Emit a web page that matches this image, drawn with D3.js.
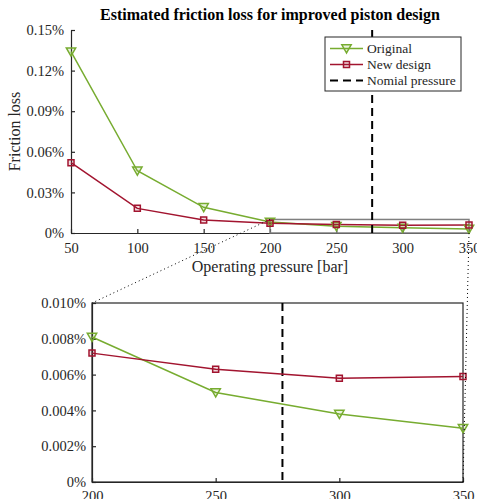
<!DOCTYPE html>
<html>
<head>
<meta charset="utf-8">
<script src="https://cdn.jsdelivr.net/npm/d3@7"></script>
<style>
  body { margin: 0; background: #fff; }
  svg, svg text { font-family: "Liberation Serif", "Times New Roman", serif !important; }
</style>
</head>
<body>
<div id="chart"></div>
<script>
const pressure = [50, 100, 150, 200, 250, 300, 350];
const original = [0.134, 0.046, 0.019, 0.0081, 0.0050, 0.0038, 0.0030];
const newDesign = [0.052, 0.0182, 0.0096, 0.0072, 0.0063, 0.0058, 0.0059];
const nominalPressure = 277;
const topYTicks = [0, 0.03, 0.06, 0.09, 0.12, 0.15];
const zoomXTicks = [200, 250, 300, 350];
const zoomYTicks = [0, 0.002, 0.004, 0.006, 0.008, 0.01];
const legendLabels = ["Original", "New design", "Nomial pressure"];

const width = 477;
const height = 499;
const green = "#77ac30";
const red = "#a2142f";
const axisColor = "#262626";
const serif = "Liberation Serif, Times New Roman, serif";

const svg = d3
  .select("#chart")
  .append("svg")
  .attr("width", width)
  .attr("height", height);

// scales
const xTop = d3.scaleLinear().domain([50, 350]).range([71, 469]);
const yTop = d3.scaleLinear().domain([0, 0.15]).range([233, 30]);
const xBot = d3.scaleLinear().domain([200, 350]).range([92, 463]);
const yBot = d3.scaleLinear().domain([0, 0.01]).range([482, 303]);

const rows = pressure.map((p, i) => ({ p, o: original[i], n: newDesign[i] }));

const triangle = d3.symbol().type(d3.symbolTriangle).size(38);
const square = d3.symbol().type(d3.symbolSquare).size(36);

function styleAxis(g) {
  g.attr("font-family", null);
  g.selectAll("path, line").attr("stroke", axisColor).attr("stroke-width", 1.2);
  g.selectAll("text")
    .attr("fill", axisColor)
    .style("font-family", serif)
    .style("font-size", "14.5px");
}

function drawSeries(g, x, y, data) {
  const lineO = d3.line().x((d) => x(d.p)).y((d) => y(d.o));
  const lineN = d3.line().x((d) => x(d.p)).y((d) => y(d.n));

  g.append("path")
    .datum(data)
    .attr("fill", "none")
    .attr("stroke", green)
    .attr("stroke-width", 1.5)
    .attr("d", lineO);

  g.append("path")
    .datum(data)
    .attr("fill", "none")
    .attr("stroke", red)
    .attr("stroke-width", 1.5)
    .attr("d", lineN);

  g.selectAll(".tri")
    .data(data)
    .join("path")
    .attr("class", "tri")
    .attr("d", triangle)
    .attr("transform", (d) => `translate(${x(d.p)},${y(d.o) - 1}) rotate(180)`)
    .attr("fill", green)
    .attr("fill-opacity", 0.15)
    .attr("stroke", green)
    .attr("stroke-width", 1.5);

  g.selectAll(".sq")
    .data(data)
    .join("path")
    .attr("class", "sq")
    .attr("d", square)
    .attr("transform", (d) => `translate(${x(d.p)},${y(d.n)})`)
    .attr("fill", red)
    .attr("fill-opacity", 0.15)
    .attr("stroke", red)
    .attr("stroke-width", 1.5);
}

// ---------- top chart ----------
const topG = svg.append("g");

topG.append("g")
  .attr("transform", `translate(0,${yTop(0)})`)
  .call(d3.axisBottom(xTop).tickValues(pressure).tickSizeInner(-4).tickSizeOuter(0).tickPadding(10))
  .call(styleAxis);

topG.append("g")
  .attr("transform", `translate(${xTop(50)},0)`)
  .call(
    d3.axisLeft(yTop)
      .tickValues(topYTicks)
      .tickSizeInner(-4)
      .tickSizeOuter(0)
      .tickPadding(7)
      .tickFormat((d) => (d === 0 ? "0%" : d.toFixed(2) + "%"))
  )
  .call(styleAxis);

// zoom rectangle
topG.append("rect")
  .attr("x", xTop(200))
  .attr("y", yTop(0.01))
  .attr("width", xTop(350) - xTop(200))
  .attr("height", yTop(0) - yTop(0.01))
  .attr("fill", "none")
  .attr("stroke", "#7f7f7f")
  .attr("stroke-width", 1.5);

drawSeries(topG, xTop, yTop, rows);

topG.append("line")
  .attr("x1", xTop(nominalPressure))
  .attr("x2", xTop(nominalPressure))
  .attr("y1", yTop(0.15))
  .attr("y2", yTop(0))
  .attr("stroke", "#000")
  .attr("stroke-width", 2)
  .attr("stroke-dasharray", "8,5");

// title and labels
svg.append("text")
  .attr("x", 270)
  .attr("y", 20)
  .attr("text-anchor", "middle")
  .style("font-size", "16px")
  .style("font-weight", "bold")
  .text("Estimated friction loss for improved piston design");

svg.append("text")
  .attr("x", 270)
  .attr("y", 272)
  .attr("text-anchor", "middle")
  .attr("fill", axisColor)
  .style("font-size", "16px")
  .text("Operating pressure [bar]");

svg.append("text")
  .attr("transform", `translate(20,${(yTop(0) + yTop(0.15)) / 2}) rotate(-90)`)
  .attr("text-anchor", "middle")
  .attr("fill", axisColor)
  .style("font-size", "16px")
  .text("Friction loss");

// legend
const legend = svg.append("g");
legend.append("rect")
  .attr("x", 325)
  .attr("y", 37)
  .attr("width", 136)
  .attr("height", 54)
  .attr("fill", "#fff")
  .attr("stroke", axisColor)
  .attr("stroke-width", 1);

const legendRow = (i) => 48.5 + i * 16;
const legendColors = [green, red, "#000"];

legend.selectAll(".lline")
  .data(legendLabels)
  .join("line")
  .attr("class", "lline")
  .attr("x1", 330)
  .attr("x2", 363)
  .attr("y1", (d, i) => legendRow(i))
  .attr("y2", (d, i) => legendRow(i))
  .attr("stroke", (d, i) => legendColors[i])
  .attr("stroke-width", (d, i) => (i === 2 ? 2 : 1.5))
  .attr("stroke-dasharray", (d, i) => (i === 2 ? "8,5" : null));

legend.append("path")
  .attr("d", triangle)
  .attr("transform", `translate(346.5,${legendRow(0) - 1}) rotate(180)`)
  .attr("fill", green)
  .attr("fill-opacity", 0.15)
  .attr("stroke", green)
  .attr("stroke-width", 1.5);

legend.append("path")
  .attr("d", square)
  .attr("transform", `translate(346.5,${legendRow(1)})`)
  .attr("fill", red)
  .attr("fill-opacity", 0.15)
  .attr("stroke", red)
  .attr("stroke-width", 1.5);

legend.selectAll(".ltext")
  .data(legendLabels)
  .join("text")
  .attr("class", "ltext")
  .attr("x", 367)
  .attr("y", (d, i) => legendRow(i))
  .attr("dy", "0.35em")
  .attr("fill", axisColor)
  .style("font-size", "13.5px")
  .text((d) => d);

// ---------- zoomed chart ----------
const zoomRows = rows.filter((d) => d.p >= 200);
const botG = svg.append("g");

botG.append("g")
  .attr("transform", `translate(0,${yBot(0)})`)
  .call(d3.axisBottom(xBot).tickValues(zoomXTicks).tickSizeInner(-4).tickSizeOuter(0).tickPadding(9))
  .call(styleAxis);

botG.append("g")
  .attr("transform", `translate(${xBot(200)},0)`)
  .call(
    d3.axisLeft(yBot)
      .tickValues(zoomYTicks)
      .tickSizeInner(-4)
      .tickSizeOuter(0)
      .tickPadding(6)
      .tickFormat((d) => (d === 0 ? "0%" : d.toFixed(3) + "%"))
  )
  .call(styleAxis);

botG.append("rect")
  .attr("x", xBot(200))
  .attr("y", yBot(0.01))
  .attr("width", xBot(350) - xBot(200))
  .attr("height", yBot(0) - yBot(0.01))
  .attr("fill", "none")
  .attr("stroke", axisColor)
  .attr("stroke-width", 1.2);

botG.append("line")
  .attr("x1", xBot(nominalPressure))
  .attr("x2", xBot(nominalPressure))
  .attr("y1", yBot(0.01))
  .attr("y2", yBot(0))
  .attr("stroke", "#000")
  .attr("stroke-width", 2)
  .attr("stroke-dasharray", "8,5");

drawSeries(botG, xBot, yBot, zoomRows);

// connector lines between the zoom box and the zoomed chart
const connectors = [
  [xTop(200), yTop(0.01), xBot(200), yBot(0.01)],
  [xTop(350), yTop(0), xBot(350), yBot(0)],
];
svg.selectAll(".conn")
  .data(connectors)
  .join("line")
  .attr("class", "conn")
  .attr("x1", (d) => d[0])
  .attr("y1", (d) => d[1])
  .attr("x2", (d) => d[2])
  .attr("y2", (d) => d[3])
  .attr("stroke", "#000")
  .attr("stroke-width", 1)
  .attr("stroke-dasharray", "1,3");
</script>
</body>
</html>
